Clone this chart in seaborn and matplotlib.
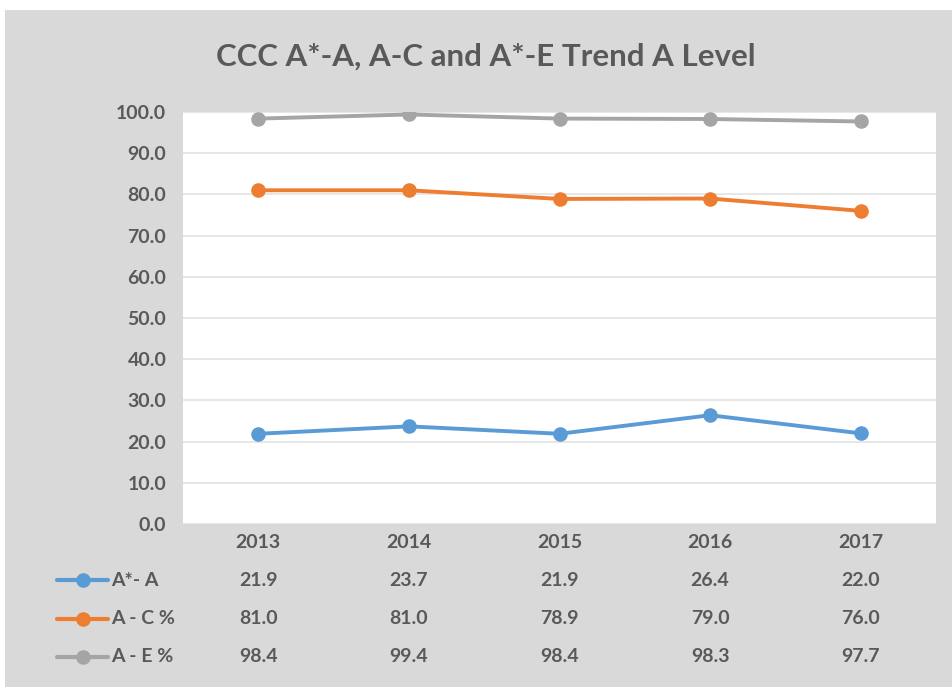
import numpy as np
import pandas as pd
import seaborn as sns
import matplotlib.pyplot as plt
from matplotlib import transforms
from matplotlib.patches import Rectangle
from matplotlib.lines import Line2D

years = ['2013', '2014', '2015', '2016', '2017']
series = ['A*- A', 'A - C %', 'A - E %']
a_star_a = [21.9, 23.7, 21.9, 26.4, 22.0]
a_c = [81.0, 81.0, 78.9, 79.0, 76.0]
a_e = [98.4, 99.4, 98.4, 98.3, 97.7]
colors = ['#5B9BD5', '#ED7D31', '#A5A5A5']

df = pd.DataFrame({
    'year': years * 3,
    'series': np.repeat(series, len(years)),
    'value': a_star_a + a_c + a_e,
})

sns.set_style('white')
plt.rcParams['font.family'] = ['Lato', 'DejaVu Sans']
txt = '#595959'
fs = 14

W, H = 952, 687
fig = plt.figure(figsize=(W / 100, H / 100), dpi=100, facecolor='white')
fig.patches.append(Rectangle((5 / W, 0), 1 - 5 / W, 1 - 10 / H, transform=fig.transFigure,
                             facecolor='#D9D9D9', edgecolor='none', zorder=-10))

ax = fig.add_axes([183 / W, 1 - 524 / H, (936 - 183) / W, (524 - 112) / H])
ax.set_facecolor('white')
sns.lineplot(data=df, x='year', y='value', hue='series', hue_order=series,
             palette=colors, marker='o', markersize=10.5, markeredgewidth=0,
             linewidth=2.8, legend=False, ax=ax)
ax.set_xlim(-0.5, 4.5)
ax.set_ylim(0, 100)
ax.set_yticks(np.arange(0, 101, 10))
ax.set_yticklabels([f'{v:.1f}' for v in np.arange(0, 101, 10)])
ax.tick_params(axis='y', labelsize=fs, labelcolor=txt, length=0, pad=12)
for lab in ax.get_yticklabels():
    lab.set_fontweight('bold')
ax.set_xticks([])
ax.set_xlabel(None)
ax.set_ylabel(None)
ax.grid(axis='y', color='#E3E3E3', linewidth=1.2)
ax.set_axisbelow(True)
sns.despine(ax=ax, left=True, bottom=True)

fig.text(486 / W, 1 - 57 / H, 'CCC A*-A, A-C and A*-E Trend A Level', ha='center', va='center',
         fontsize=22.5, color=txt, fontweight='bold')

# data table below the chart
tr = transforms.blended_transform_factory(ax.transData, fig.transFigure)
for i, y in enumerate(years):
    fig.text(i, 1 - 543 / H, y, transform=tr, ha='center', va='center',
             fontsize=fs, color=txt, fontweight='bold')
rows = [a_star_a, a_c, a_e]
row_y = [580, 619, 657]
for name, vals, c, ry in zip(series, rows, colors, row_y):
    yf = 1 - ry / H
    fig.add_artist(Line2D([57 / W, 108 / W], [yf, yf], transform=fig.transFigure,
                          color=c, linewidth=3))
    fig.add_artist(Line2D([83 / W], [yf], transform=fig.transFigure, color=c,
                          marker='o', markersize=10.5, markeredgewidth=0))
    fig.text(111 / W, yf, name, ha='left', va='center', fontsize=fs, color=txt,
             fontweight='bold')
    for i, v in enumerate(vals):
        fig.text(i, yf, f'{v:.1f}', transform=tr, ha='center', va='center',
                 fontsize=fs, color=txt, fontweight='bold')

fig.savefig('out.png', dpi=100, facecolor='white')
